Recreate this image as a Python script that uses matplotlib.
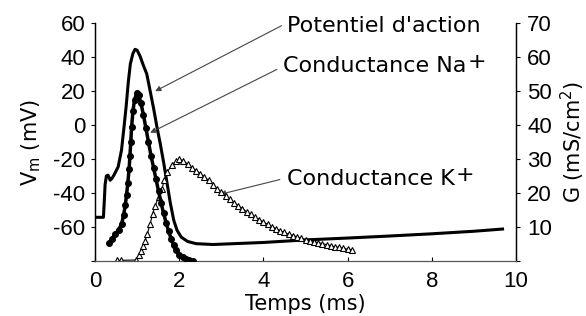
import matplotlib.pyplot as plt

# potentiel d'action (ms, mV)
ap_t = [0.0, 0.20, 0.22, 0.24, 0.27, 0.31, 0.36, 0.40, 0.45, 0.55, 0.63, 0.69, 0.74, 0.79, 0.84,
        0.90, 0.95, 1.00, 1.07, 1.15, 1.23, 1.31, 1.39, 1.47, 1.55, 1.63, 1.71, 1.79, 1.87, 1.95,
        2.05, 2.20, 2.40, 2.80, 3.50, 4.00, 5.00, 6.00, 7.00, 8.00, 9.00, 9.68]
ap_v = [-54.3, -54.3, -45, -35, -30, -29.5, -32.5, -31.5, -29.5, -24.6, -14.7, -1, 11, 25, 36,
        42, 44.5, 44, 40.5, 35, 30, 20, 10, -1, -11, -22, -34, -46, -56, -62,
        -66, -68.5, -69.8, -70.3, -69.6, -69.1, -67.6, -66.5, -65.3, -64, -62.5, -61.2]

# conductance Na+ (ms, mS/cm2)
na_t = [0.34, 0.40, 0.48, 0.56, 0.63, 0.68, 0.72, 0.75, 0.78, 0.81, 0.83, 0.85, 0.87, 0.90, 0.94,
        0.99, 1.04, 1.09, 1.15, 1.21, 1.27, 1.33, 1.39, 1.45, 1.51, 1.57, 1.63, 1.69, 1.75, 1.81,
        1.87, 1.93, 2.00, 2.08, 2.16, 2.24, 2.32]
na_g = [5.4, 6.5, 7.9, 9.2, 10.8, 13.5, 16.5, 19.5, 23.0, 27.0, 31.0, 35.0, 39.5, 44.0, 47.5,
        49.3, 48.8, 46.5, 43.0, 39.0, 35.0, 31.0, 27.5, 24.0, 20.5, 17.0, 14.0, 11.2, 8.7, 6.5,
        4.6, 3.1, 1.9, 1.1, 0.6, 0.3, 0.1]

# conductance K+ (ms, mS/cm2)
k_t = [0.52, 0.62, 0.98, 1.05, 1.09, 1.13, 1.19, 1.24, 1.31, 1.37, 1.43, 1.51, 1.59, 1.65, 1.72,
       1.82, 1.92, 2.0, 2.1, 2.2, 2.3, 2.4, 2.5, 2.6, 2.7, 2.8, 2.9, 3.0, 3.1, 3.2, 3.3, 3.4,
       3.5, 3.6, 3.7, 3.8, 3.9, 4.0, 4.1, 4.2, 4.3, 4.4, 4.5, 4.6, 4.7, 4.8, 4.9, 5.0, 5.1,
       5.2, 5.3, 5.4, 5.5, 5.6, 5.7, 5.8, 5.9, 6.0, 6.1]
k_g = [0.2, 0.2, 0.3, 1.8, 2.8, 4.3, 6.0, 7.9, 10.9, 13.9, 16.3, 18.8, 21.3, 23.8, 26.2,
       28.2, 29.3, 29.9, 29.5, 28.5, 27.5, 26.6, 25.7, 24.7, 23.7, 22.5, 21.3, 20.2, 19.2, 18.2,
       17.2, 16.3, 15.4, 14.5, 13.7, 12.9, 12.2, 11.4, 10.8, 10.1, 9.5, 8.9, 8.4, 7.9, 7.5,
       7.1, 6.7, 6.3, 6.0, 5.7, 5.4, 5.1, 4.8, 4.5, 4.2, 4.0, 3.7, 3.5, 3.3]

x_ticks = [0, 2, 4, 6, 8, 10]
v_ticks = [-80, -60, -40, -20, 0, 20, 40, 60]
g_ticks = [0, 10, 20, 30, 40, 50, 60, 70]

tick_font = {"family": "Liberation Sans", "size": 16}
label_font = {"family": "DejaVu Sans", "size": 15}
note_font = {"family": "DejaVu Sans", "size": 16}

fig = plt.figure(figsize=(5.86, 3.16), dpi=100)
ax = fig.add_axes([95 / 586, 55 / 316, 421 / 586, 238 / 316])
ax2 = ax.twinx()

ax.plot(ap_t, ap_v, color="black", linewidth=2.2, zorder=3)
ax2.plot(na_t, na_g, color="black", linewidth=2.5, marker="o", markersize=4, zorder=3)
ax2.plot(k_t, k_g, color="black", linewidth=0.8, marker="^", markersize=5,
         markerfacecolor="white", markeredgecolor="black", markeredgewidth=0.8, zorder=2)

ax.set_xlim(0, 10)
ax.set_ylim(-80, 60)
ax2.set_ylim(0, 70)

ax.set_xticks(x_ticks)
ax.set_xticklabels([str(t) for t in x_ticks], fontdict=tick_font)
ax.set_yticks(v_ticks)
ax.set_yticklabels(["" if v == -80 else str(v) for v in v_ticks], fontdict=tick_font)
ax2.set_yticks(g_ticks)
ax2.set_yticklabels(["" if g == 0 else str(g) for g in g_ticks], fontdict=tick_font)

ax.tick_params(axis="x", direction="in", length=3, pad=7)
ax.tick_params(axis="y", direction="out", length=3, pad=4)
ax2.tick_params(axis="y", direction="out", length=3, pad=5)

for a in (ax, ax2):
    a.spines["top"].set_visible(False)
    a.spines["bottom"].set_color("#555555")
    a.spines["left"].set_linewidth(0.9)
    a.spines["right"].set_linewidth(0.9)

ax.set_xlabel("Temps (ms)", fontdict=label_font, labelpad=2)
ax.set_ylabel("V$_\\mathregular{m}$ (mV)", fontdict=label_font, labelpad=7)
ax2.set_ylabel("G (mS/cm$^\\mathregular{2}$)", fontdict=label_font, labelpad=5)

arrow = dict(arrowstyle="-|>", color="#444444", lw=0.8, mutation_scale=8, shrinkA=0, shrinkB=0)
ax.text(4.56, 58.2, "Potentiel d'action", va="center", ha="left", **note_font)
ax.annotate("", xy=(1.43, 19.9), xytext=(4.43, 58.4), arrowprops=arrow)

na_txt = ax.text(4.47, 34.5, "Conductance Na", va="center", ha="left", **note_font)
ax.annotate("+", xy=(1.0, 0.5), xycoords=na_txt, xytext=(1, 3), textcoords="offset points",
            va="center", ha="left", **note_font)
ax.annotate("", xy=(1.31, -4.6), xytext=(4.32, 32.7), arrowprops=arrow)

k_txt = ax.text(4.55, -31.9, "Conductance K", va="center", ha="left", **note_font)
ax.annotate("+", xy=(1.0, 0.5), xycoords=k_txt, xytext=(1, 3), textcoords="offset points",
            va="center", ha="left", **note_font)
ax.annotate("", xy=(2.97, -40.8), xytext=(4.39, -32.1), arrowprops=arrow)

fig.savefig("out.png", dpi=100)
